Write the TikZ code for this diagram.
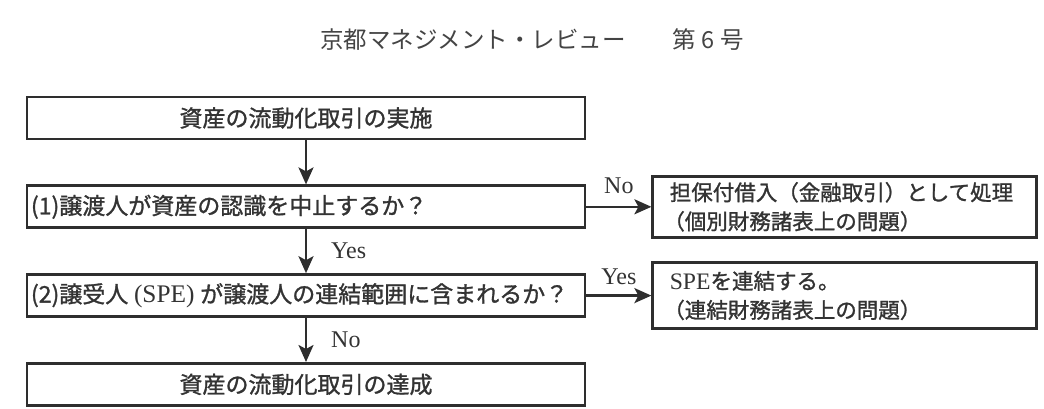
\documentclass[tikz,border=0pt]{standalone}
\usepackage{fontspec}
\setmainfont{Liberation Serif}
\newfontfamily\jpfont[FakeBold=1.2]{Noto Sans CJK JP}
\newfontfamily\headfont{Noto Sans CJK JP}
\newfontfamily\latfont[Scale=1.1]{Liberation Serif}
\usepackage{tikz}
\usetikzlibrary{arrows.meta,positioning}
\definecolor{ink}{HTML}{2E2E2E}
\definecolor{inktext}{HTML}{333333}
\definecolor{headgray}{HTML}{444444}
\newcommand{\lat}[1]{{\latfont #1}}
\tikzset{
  stepbox/.style={
    rectangle, draw=ink, line width=2.8pt, fill=white,
    minimum height=42pt, text width=550pt, inner xsep=4pt, inner ysep=0pt,
    font=\jpfont\fontsize{23}{27}\selectfont, text=inktext,
    align=#1
  },
  stepbox/.default=center,
  outbox/.style={
    rectangle, draw=ink, line width=2.8pt, fill=white,
    minimum height=61pt, text width=350pt, inner xsep=17pt, inner ysep=2pt,
    font=\jpfont\fontsize{21.5}{29}\selectfont, text=inktext,
    align=left
  },
  flowarrow/.style={
    -{Stealth[length=17pt, width=15pt, inset=4pt]}, line width=2.4pt, draw=ink
  },
  branchlabel/.style={
    font=\rmfamily\fontsize{24}{26}\selectfont, text=inktext, inner sep=0pt
  },
  headline/.style={
    font=\headfont\fontsize{23.5}{26}\selectfont, text=headgray
  },
}
\begin{document}
\begin{tikzpicture}[x=1pt, y=-1pt, node distance=44pt and 65pt]
  \useasboundingbox (0,0) rectangle (1044,409);

  % Journal header
  \node[headline] (head) at (532,40) {京都マネジメント・レビュー\hspace{2em}第 6 号};

  % Main flow on the left
  \node[stepbox] (start) at (306,118) {資産の流動化取引の実施};
  \node[stepbox=left, below=of start] (q1) {(1)譲渡人が資産の認識を中止するか？};
  \node[stepbox=left, below=of q1] (q2) {(2)譲受人\hspace{0.25em}\lat{(SPE)}\hspace{0.25em}が譲渡人の連結範囲に含まれるか？};
  \node[stepbox, below=of q2] (done) {資産の流動化取引の達成};

  % Outcomes on the right
  \node[outbox, right=of q1] (loan) {担保付借入（金融取引）として処理\\\hspace*{-0.3em}（個別財務諸表上の問題）};
  \node[outbox, right=of q2, minimum height=66pt] (consol) {\lat{SPE}を連結する。\\\hspace*{-0.3em}（連結財務諸表上の問題）};

  % Flow arrows
  \draw[flowarrow] (start) -- (q1);
  \draw[flowarrow] (q1) -- node[branchlabel, right=24pt] {Yes} (q2);
  \draw[flowarrow] (q2) -- node[branchlabel, right=24pt] {No} (done);

  % Branches
  \draw[flowarrow] (q1) -- node[branchlabel, above=12pt] {No} (loan);
  \draw[flowarrow] (q2) -- node[branchlabel, above=10pt] {Yes} (consol);
\end{tikzpicture}
\end{document}
